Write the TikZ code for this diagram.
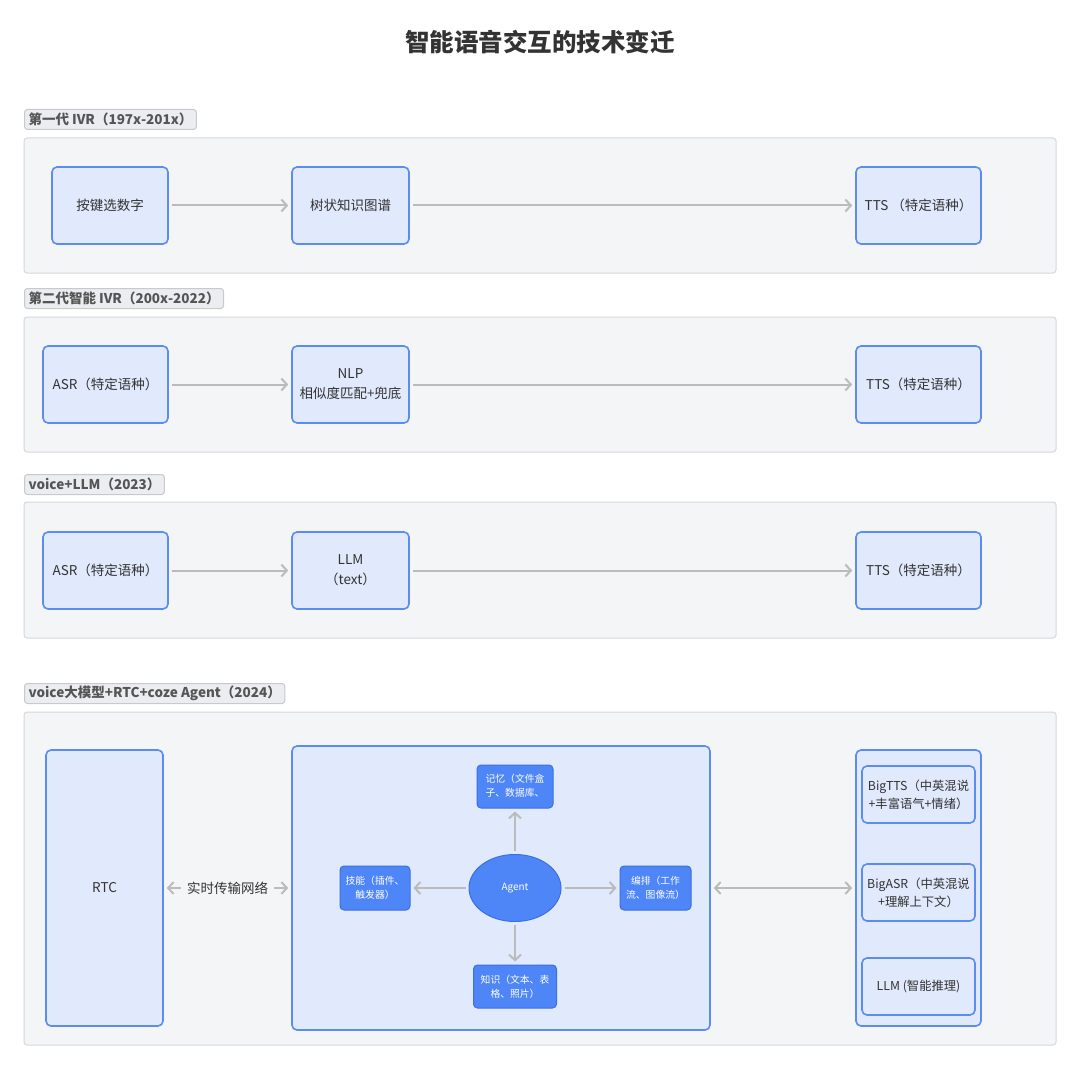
\documentclass[tikz,border=0pt]{standalone}
\usepackage{fontspec}
\setmainfont{Noto Sans CJK SC}
\usetikzlibrary{arrows.meta,shapes.geometric}
\definecolor{panelfill}{HTML}{F3F5F7}
\definecolor{paneldraw}{HTML}{D5D8DC}
\definecolor{labfill}{HTML}{EBEDF0}
\definecolor{labdraw}{HTML}{C6C9CE}
\definecolor{labtext}{HTML}{555555}
\definecolor{nodefill}{HTML}{E1E9FC}
\definecolor{nodedraw}{HTML}{5B8DEF}
\definecolor{darkfill}{HTML}{4F86F7}
\definecolor{darkdraw}{HTML}{3B6FE0}
\definecolor{arrgray}{HTML}{BBBBBB}
\definecolor{txt}{HTML}{333333}
\tikzset{
  panel/.style={draw=paneldraw, fill=panelfill, line width=1pt, rounded corners=3pt, inner sep=0pt},
  seclabel/.style={draw=labdraw, fill=labfill, line width=1pt, rounded corners=3pt, anchor=north west,
    minimum height=20pt, inner xsep=4pt, inner ysep=0pt, text=labtext, font=\fontsize{13.5}{15}\selectfont\bfseries},
  box/.style={draw=nodedraw, fill=nodefill, line width=1.6pt, rounded corners=5pt, inner sep=2pt,
    text=txt, align=center, font=\fontsize{13.5}{20}\selectfont},
  darkbox/.style={draw=darkdraw, fill=darkfill, line width=1pt, rounded corners=4pt, inner sep=1pt,
    text=white, align=center, font=\fontsize{9.8}{14}\selectfont},
  arr/.style={draw=arrgray, line width=2pt, -{Straight Barb[length=5.5pt,width=12pt]}, shorten >=3pt, shorten <=3pt},
  darr/.style={draw=arrgray, line width=2pt, {Straight Barb[length=5.5pt,width=12pt]}-{Straight Barb[length=5.5pt,width=12pt]}, shorten >=3pt, shorten <=3pt},
}
\begin{document}
\begin{tikzpicture}[x=1pt,y=-1pt]
\useasboundingbox[fill=white] (0,0) rectangle (1080,1070);
\node[text=txt, font=\fontsize{24.5}{28}\selectfont\bfseries] (title) at (540,42) {智能语音交互的技术变迁};

% ---- section 1
\node[seclabel] (l1) at (24,109) {第一代 IVR（197x-201x）};
\node[panel, minimum width=1032pt, minimum height=135pt] (p1) at (540,205.5) {};
\node[box, minimum width=116pt, minimum height=77pt] (a1) at (110,205.5) {按键选数字};
\node[box, minimum width=117pt, minimum height=77pt] (a2) at (350.5,205.5) {树状知识图谱};
\node[box, minimum width=125pt, minimum height=77pt] (a3) at (918.5,205.5) {TTS （特定语种）};
\draw[arr] (a1) -- (a2);
\draw[arr] (a2) -- (a3);

% ---- section 2
\node[seclabel] (l2) at (24,288) {第二代智能 IVR（200x-2022）};
\node[panel, minimum width=1032pt, minimum height=135pt] (p2) at (540,384.5) {};
\node[box, minimum width=125pt, minimum height=77pt] (b1) at (105.5,384.5) {ASR（特定语种）};
\node[box, minimum width=117pt, minimum height=77pt] (b2) at (350.5,384.5) {NLP\\相似度匹配+兜底};
\node[box, minimum width=125pt, minimum height=77pt] (b3) at (918.5,384.5) {TTS（特定语种）};
\draw[arr] (b1) -- (b2);
\draw[arr] (b2) -- (b3);

% ---- section 3
\node[seclabel] (l3) at (24,474) {voice+LLM（2023）};
\node[panel, minimum width=1032pt, minimum height=136pt] (p3) at (540,570) {};
\node[box, minimum width=125pt, minimum height=77pt] (c1) at (105.5,570.5) {ASR（特定语种）};
\node[box, minimum width=117pt, minimum height=77pt] (c2) at (350.5,570.5) {LLM\\（text）};
\node[box, minimum width=125pt, minimum height=77pt] (c3) at (918.5,570.5) {TTS（特定语种）};
\draw[arr] (c1) -- (c2);
\draw[arr] (c2) -- (c3);

% ---- section 4
\node[seclabel] (l4) at (24,683) {voice大模型+RTC+coze Agent（2024）};
\node[panel, minimum width=1032pt, minimum height=333pt] (p4) at (540,878.5) {};
\node[box, minimum width=117pt, minimum height=276pt] (rtc) at (104.5,888) {RTC};
\node[box, minimum width=418pt, minimum height=284pt] (agentbox) at (501,888) {};
\node[box, minimum width=125pt, minimum height=276pt] (rightbox) at (918.5,888) {};
\node[box, font=\fontsize{12.3}{18}\selectfont, minimum width=113pt, minimum height=57pt] (bigtts) at (918.5,794.5) {BigTTS（中英混说\\+丰富语气+情绪）};
\node[box, font=\fontsize{12.3}{18}\selectfont, minimum width=113pt, minimum height=57pt] (bigasr) at (918.5,892.5) {BigASR（中英混说\\+理解上下文）};
\node[box, font=\fontsize{12.3}{18}\selectfont, minimum width=113pt, minimum height=57pt] (llm) at (918.5,986.5) {LLM (智能推理)};

\node[ellipse, draw=darkdraw, fill=darkfill, line width=1pt, minimum width=92pt, minimum height=67pt,
  text=white, font=\fontsize{10}{12}\selectfont] (agent) at (515,888) {Agent};
\node[darkbox, minimum width=76pt, minimum height=43pt] (mem) at (515,786.5) {};
\node[text=white, align=center, font=\fontsize{9.8}{14}\selectfont, inner sep=0pt] (memtext) at (515,786) {记忆（文件盒\\子、数据库、};
\node[darkbox, minimum width=70pt, minimum height=44pt] (skill) at (375,888) {技能（插件、\\触发器）};
\node[darkbox, minimum width=71pt, minimum height=44pt] (flow) at (655.5,888) {编排（工作\\流、图像流）};
\node[darkbox, minimum width=83pt, minimum height=43pt] (know) at (515,986.5) {知识（文本、表\\格、照片）};

\draw[arr] (agent) -- (mem);
\draw[arr] (agent) -- (skill);
\draw[arr] (agent) -- (flow);
\draw[arr] (agent) -- (know);

\draw[darr] (rtc) -- node[fill=panelfill, text=txt, inner xsep=6pt, font=\fontsize{13.5}{15}\selectfont] (rtclab) {实时传输网络} (agentbox);
\draw[darr] (agentbox) -- (rightbox);
\end{tikzpicture}
\end{document}
